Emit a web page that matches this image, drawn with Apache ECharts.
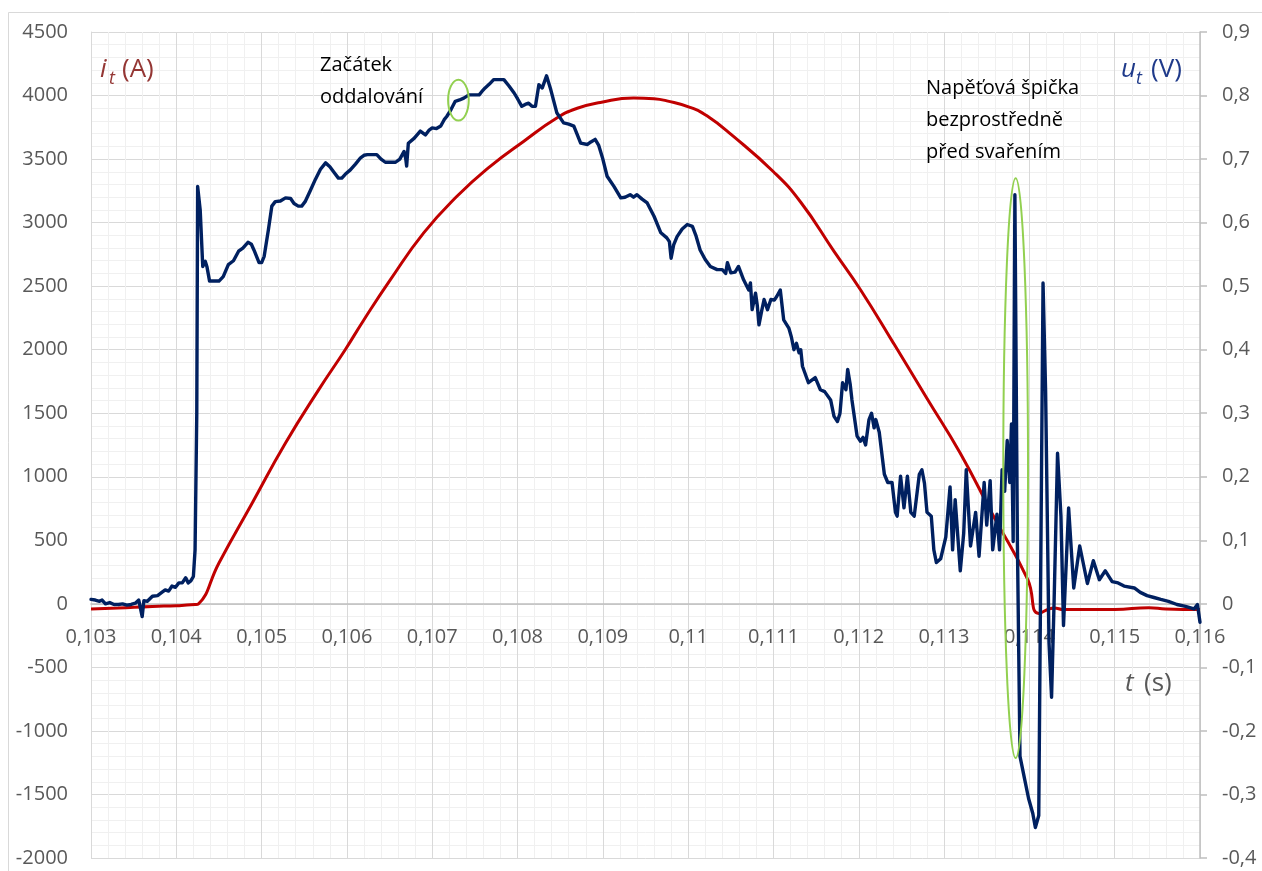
<!DOCTYPE html>
<html>
<head>
<meta charset="utf-8">
<script src="https://cdn.jsdelivr.net/npm/echarts@6/dist/echarts.min.js"></script>
<style>
html,body{margin:0;padding:0;background:#fff;}
#chart{width:1262px;height:871px;}
</style>
</head>
<body>
<div id="chart"></div>
<script>
// ---- Data ----
const currentTime = [0.10300,0.10332,0.10372,0.10400,0.10422,0.10426,0.10450,0.10489,0.10528,0.10567,0.10598,0.10620,0.10651,0.10690,0.10729,0.10768,0.10807,0.10846,0.10870,0.10897,0.10936,0.10960,0.10975,0.11003,0.11022,0.11051,0.11100,0.11132,0.11171,0.11202,0.11241,0.11280,0.11319,0.11358,0.11398,0.11411,0.11429,0.11440,0.11500,0.11540,0.11560,0.11600];
const currentValues = [-40,-32,-20,-15,-6,0,322,794,1266,1686,2000,2236,2551,2919,3207,3443,3639,3823,3900,3946,3981,3975,3958,3905,3840,3690,3400,3160,2774,2472,2048,1616,1185,689,192,-75,-32,-45,-45,-30,-40,-45];

const voltageTime = [0.10300,0.10305,0.10310,0.10313,0.10317,0.10322,0.10327,0.10332,0.10337,0.10342,0.10347,0.10352,0.10356,0.10358,0.10360,0.10362,0.10366,0.10372,0.10378,0.10383,0.10387,0.10391,0.10395,0.10399,0.10403,0.10407,0.10411,0.10414,0.10417,0.10420,0.10422,0.10424,0.10425,0.10428,0.10431,0.10434,0.10436,0.10439,0.10450,0.10455,0.10461,0.10467,0.10473,0.10478,0.10484,0.10488,0.10491,0.10497,0.10500,0.10503,0.10508,0.10512,0.10516,0.10522,0.10528,0.10534,0.10538,0.10543,0.10547,0.10551,0.10557,0.10563,0.10569,0.10575,0.10580,0.10585,0.10590,0.10594,0.10598,0.10604,0.10610,0.10616,0.10620,0.10624,0.10635,0.10640,0.10645,0.10657,0.10662,0.10667,0.10669,0.10670,0.10672,0.10679,0.10686,0.10692,0.10696,0.10700,0.10705,0.10710,0.10714,0.10717,0.10722,0.10727,0.10732,0.10737,0.10743,0.10755,0.10758,0.10762,0.10767,0.10772,0.10784,0.10790,0.10796,0.10800,0.10805,0.10809,0.10813,0.10817,0.10821,0.10825,0.10829,0.10834,0.10839,0.10846,0.10854,0.10860,0.10866,0.10874,0.10882,0.10886,0.10891,0.10895,0.10900,0.10905,0.10913,0.10921,0.10926,0.10932,0.10936,0.10940,0.10946,0.10952,0.10960,0.10968,0.10975,0.10978,0.10980,0.10983,0.10987,0.10993,0.10999,0.11005,0.11009,0.11014,0.11020,0.11026,0.11034,0.11040,0.11042,0.11044,0.11046,0.11050,0.11055,0.11059,0.11065,0.11071,0.11073,0.11075,0.11079,0.11081,0.11083,0.11086,0.11089,0.11093,0.11097,0.11101,0.11104,0.11108,0.11112,0.11118,0.11121,0.11124,0.11127,0.11130,0.11132,0.11134,0.11141,0.11145,0.11149,0.11155,0.11160,0.11167,0.11171,0.11175,0.11178,0.11181,0.11185,0.11187,0.11190,0.11192,0.11198,0.11202,0.11205,0.11208,0.11212,0.11215,0.11218,0.11220,0.11224,0.11230,0.11234,0.11239,0.11243,0.11245,0.11249,0.11253,0.11257,0.11261,0.11265,0.11271,0.11274,0.11277,0.11280,0.11285,0.11288,0.11291,0.11296,0.11302,0.11307,0.11310,0.11313,0.11319,0.11323,0.11326,0.11331,0.11337,0.11341,0.11347,0.11350,0.11354,0.11357,0.11362,0.11365,0.11368,0.11371,0.11374,0.11377,0.11379,0.11381,0.11383,0.11386,0.11389,0.11394,0.11399,0.11404,0.11407,0.11411,0.11413,0.11416,0.11419,0.11423,0.11426,0.11429,0.11433,0.11437,0.11440,0.11446,0.11452,0.11459,0.11468,0.11475,0.11482,0.11489,0.11497,0.11504,0.11511,0.11523,0.11530,0.11538,0.11546,0.11554,0.11563,0.11573,0.11583,0.11593,0.11597,0.11600];
const voltageValues = [0.007,0.006,0.004,0.006,0.000,0.002,-0.001,-0.001,0.000,-0.002,-0.001,0.001,0.006,0.004,-0.020,0.005,0.004,0.012,0.013,0.018,0.022,0.020,0.028,0.026,0.033,0.033,0.041,0.033,0.036,0.043,0.085,0.300,0.657,0.620,0.531,0.539,0.530,0.508,0.508,0.515,0.534,0.540,0.555,0.560,0.569,0.566,0.557,0.537,0.537,0.547,0.589,0.626,0.633,0.634,0.639,0.638,0.630,0.626,0.626,0.633,0.650,0.668,0.684,0.694,0.688,0.679,0.670,0.670,0.676,0.683,0.692,0.702,0.706,0.707,0.707,0.700,0.695,0.695,0.700,0.712,0.700,0.689,0.725,0.733,0.744,0.738,0.745,0.749,0.748,0.752,0.762,0.767,0.778,0.791,0.793,0.796,0.801,0.801,0.806,0.812,0.818,0.825,0.825,0.815,0.804,0.795,0.783,0.786,0.788,0.783,0.783,0.817,0.812,0.831,0.809,0.773,0.757,0.755,0.752,0.725,0.723,0.727,0.731,0.722,0.700,0.673,0.657,0.639,0.640,0.644,0.640,0.644,0.637,0.631,0.610,0.584,0.576,0.570,0.544,0.565,0.578,0.590,0.597,0.594,0.580,0.557,0.542,0.531,0.526,0.526,0.529,0.520,0.537,0.521,0.522,0.531,0.510,0.494,0.505,0.463,0.489,0.470,0.439,0.460,0.479,0.463,0.479,0.478,0.484,0.494,0.447,0.434,0.420,0.400,0.410,0.395,0.400,0.374,0.348,0.352,0.356,0.337,0.334,0.321,0.295,0.287,0.300,0.348,0.337,0.369,0.345,0.321,0.264,0.256,0.262,0.250,0.290,0.300,0.277,0.290,0.270,0.204,0.191,0.191,0.144,0.138,0.201,0.151,0.201,0.144,0.138,0.204,0.211,0.190,0.144,0.138,0.085,0.065,0.071,0.105,0.184,0.085,0.164,0.052,0.111,0.211,0.091,0.144,0.075,0.191,0.124,0.194,0.085,0.141,0.085,0.211,0.177,0.257,0.191,0.283,0.098,0.644,0.091,-0.240,-0.273,-0.306,-0.330,-0.352,-0.333,0.005,0.505,0.336,-0.061,-0.147,0.005,0.237,0.138,-0.034,0.151,0.025,0.091,0.032,0.068,0.038,0.052,0.035,0.033,0.028,0.025,0.018,0.013,0.010,0.007,0.004,-0.001,-0.004,-0.008,-0.001,-0.029];

// ---- Axis ranges ----
const timeRange = [0.103, 0.116, 0.001];
const currentRange = [-2000, 4500, 500];
const voltageRange = [-0.4, 0.9, 0.1];

// ---- Helpers ----
const FONT = '"Open Sans", "Liberation Sans", sans-serif';
const commaNum = v => {
  if (Math.abs(v) < 1e-12) return '0';
  return String(parseFloat(v.toFixed(6))).replace('.', ',');
};
const zip = (a, b) => a.map((x, i) => [x, b[i]]);

const GRID = {left: 91, right: 62, top: 32, bottom: 13};
const H = 871;
const plotH = H - GRID.top - GRID.bottom;
// x axis drawn at the zero of the current axis (Excel style)
const zeroFromBottom = plotH * (0 - currentRange[0]) / (currentRange[1] - currentRange[0]);

const chart = echarts.init(document.getElementById('chart'), null, {renderer: 'canvas'});

const option = {
  animation: false,
  backgroundColor: '#ffffff',
  grid: Object.assign({containLabel: false, outerBoundsMode: 'none'}, GRID),
  xAxis: {
    type: 'value', min: timeRange[0], max: timeRange[1], interval: timeRange[2],
    position: 'bottom', offset: -zeroFromBottom,
    axisLine: {show: true, onZero: false, lineStyle: {color: '#bfbfbf', width: 1.5}},
    axisTick: {show: false},
    axisLabel: {color: '#595959', fontSize: 20, fontFamily: FONT, margin: 23, formatter: commaNum},
    splitLine: {show: true, lineStyle: {color: '#d9d9d9', width: 1}},
    minorTick: {show: false, splitNumber: 5},
    minorSplitLine: {show: true, lineStyle: {color: '#f0f0f0', width: 1}}
  },
  yAxis: [
    {
      type: 'value', min: currentRange[0], max: currentRange[1], interval: currentRange[2], position: 'left',
      axisLine: {show: true, onZero: false, lineStyle: {color: '#d9d9d9', width: 1}},
      axisTick: {show: false},
      axisLabel: {color: '#595959', fontSize: 20, fontFamily: FONT, margin: 23, formatter: v => String(Math.round(v))},
      splitLine: {show: true, lineStyle: {color: '#d9d9d9', width: 1}},
      minorTick: {show: false, splitNumber: 5},
      minorSplitLine: {show: true, lineStyle: {color: '#f0f0f0', width: 1}}
    },
    {
      type: 'value', min: voltageRange[0], max: voltageRange[1], interval: voltageRange[2], position: 'right',
      axisLine: {show: true, onZero: false, lineStyle: {color: '#bfbfbf', width: 1.5}},
      axisTick: {show: true, inside: false, length: 7, lineStyle: {color: '#bfbfbf', width: 1.5}},
      axisLabel: {color: '#595959', fontSize: 20, fontFamily: FONT, margin: 22, formatter: commaNum},
      splitLine: {show: false}
    }
  ],
  series: [
    {
      name: 'i_t', type: 'line', yAxisIndex: 0, showSymbol: false, symbol: 'none',
      smooth: 0.5,
      data: zip(currentTime, currentValues),
      lineStyle: {color: '#c00000', width: 3}, itemStyle: {color: '#c00000'}, z: 2
    },
    {
      name: 'u_t', type: 'line', yAxisIndex: 1, showSymbol: false, symbol: 'none',
      data: zip(voltageTime, voltageValues),
      lineStyle: {color: '#002060', width: 3.4, join: 'round', cap: 'round'}, itemStyle: {color: '#002060'}, z: 3
    }
  ]
};
chart.setOption(option);

// ---- Annotations ----
const smallEllipse = {t: 0.107307, a: 3964, dt: 0.000121, da: 161};
const bigEllipse = {t: 0.113839, v: 0.2136, dt: 0.000145, dv: 0.4564};

function ellipseFrom(center, edgeX, edgeY) {
  return {cx: center[0], cy: center[1], rx: Math.abs(edgeX[0] - center[0]), ry: Math.abs(edgeY[1] - center[1])};
}
const sC = chart.convertToPixel({xAxisIndex: 0, yAxisIndex: 0}, [smallEllipse.t, smallEllipse.a]);
const sX = chart.convertToPixel({xAxisIndex: 0, yAxisIndex: 0}, [smallEllipse.t + smallEllipse.dt, smallEllipse.a]);
const sY = chart.convertToPixel({xAxisIndex: 0, yAxisIndex: 0}, [smallEllipse.t, smallEllipse.a + smallEllipse.da]);
const bC = chart.convertToPixel({xAxisIndex: 0, yAxisIndex: 1}, [bigEllipse.t, bigEllipse.v]);
const bX = chart.convertToPixel({xAxisIndex: 0, yAxisIndex: 1}, [bigEllipse.t + bigEllipse.dt, bigEllipse.v]);
const bY = chart.convertToPixel({xAxisIndex: 0, yAxisIndex: 1}, [bigEllipse.t, bigEllipse.v + bigEllipse.dv]);

const txt = (x, y, text, extra) => ({
  type: 'text', x: x, y: y, z: 100,
  style: Object.assign({text: text, fontFamily: FONT, fontSize: 20, fill: '#000000', align: 'left', verticalAlign: 'middle'}, extra || {})
});

chart.setOption({
  graphic: [
    {type: 'rect', z: -10, silent: true, shape: {x: 8.5, y: 12.5, width: 1300, height: 900},
     style: {fill: 'none', stroke: '#d9d9d9', lineWidth: 1}},
    {type: 'ellipse', z: 90, shape: ellipseFrom(sC, sX, sY), style: {fill: 'none', stroke: '#92d050', lineWidth: 2}},
    {type: 'ellipse', z: 90, shape: ellipseFrom(bC, bX, bY), style: {fill: 'none', stroke: '#92d050', lineWidth: 2}},
    // axis titles
    txt(100, 70, 'i', {fontSize: 26, fontStyle: 'italic', fill: '#943634'}),
    txt(109, 79, 't', {fontSize: 18, fontStyle: 'italic', fill: '#943634'}),
    txt(122, 70, '(A)', {fontSize: 26, fill: '#943634'}),
    txt(1121, 70, 'u', {fontSize: 26, fontStyle: 'italic', fill: '#1f3a8a'}),
    txt(1136, 79, 't', {fontSize: 18, fontStyle: 'italic', fill: '#1f3a8a'}),
    txt(1151, 70, '(V)', {fontSize: 26, fill: '#1f3a8a'}),
    txt(1125, 684, 't', {fontSize: 26, fontStyle: 'italic', fill: '#595959'}),
    txt(1144, 684, '(s)', {fontSize: 26, fill: '#595959'}),
    // annotations
    txt(320, 49, 'Začátek\noddalování', {verticalAlign: 'top', lineHeight: 32}),
    txt(926, 72, 'Napěťová špička\nbezprostředně\npřed svařením', {verticalAlign: 'top', lineHeight: 32})
  ]
});
</script>
</body>
</html>
